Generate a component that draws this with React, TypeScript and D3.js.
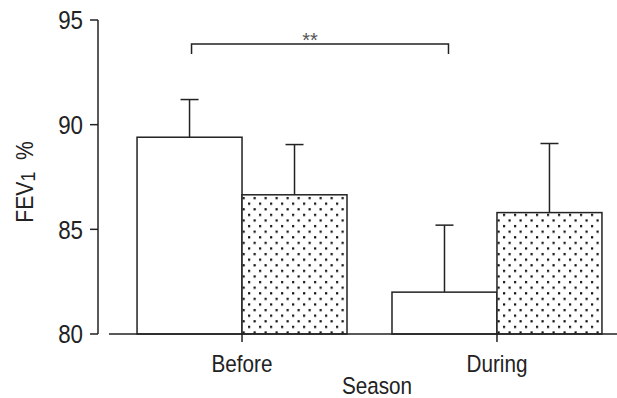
import React from 'react';
import * as d3 from 'd3';

const categories = ['Before', 'During'];
const series = ['open', 'dotted'];
const means = [
    [89.4, 86.65],
    [82.0, 85.8],
];
const upperErr = [
    [91.2, 89.05],
    [85.2, 89.1],
];
const yTicks = [80, 85, 90, 95];
const sigLabel = '**';
const sigLevel = 93.85;

// narrow-ish text, like the condensed Helvetica in the original
const Label = ({ x, y, size, anchor = 'middle', sx = 0.88, rotate = 0, dy = '0', fill = '#222', children }) => (
    <text
        transform={`translate(${x},${y}) rotate(${rotate}) scale(${sx},1)`}
        textAnchor={anchor}
        dy={dy}
        fontFamily='"Liberation Sans", Arial, sans-serif'
        fontSize={size}
        fill={fill}
    >
        {children}
    </text>
);

const App = () => {
    const width = 617;
    const height = 398;
    const ink = '#222';

    const y = d3.scaleLinear().domain([80, 95]).range([334, 20]);
    const x = d3.scaleBand()
        .domain(categories)
        .range([109, 630])
        .paddingInner(45 / 255)
        .paddingOuter(0.11);
    const sub = d3.scaleBand()
        .domain(series)
        .range([0, x.bandwidth()])
        .padding(0);

    const capHalf = 9;
    const whiteCenter = (c) => x(c) + sub('open') + sub.bandwidth() / 2;
    const bl = whiteCenter('Before') + 2;
    const br = whiteCenter('During') + 4;
    const by = y(sigLevel);

    return (
        <svg width={width} height={height} style={{ position: 'absolute', left: 0, top: 0, background: '#fff' }}>
            <defs>
                <pattern id="dots" width={11} height={11.2} patternUnits="userSpaceOnUse">
                    <rect width={11} height={11.2} fill="#fff" />
                    <rect x={1} y={1} width={2.2} height={2.2} fill="#111" />
                    <rect x={6.5} y={6.6} width={2.2} height={2.2} fill="#111" />
                </pattern>
            </defs>

            {/* bars + error bars */}
            {categories.map((c, i) => (
                <g key={c} transform={`translate(${x(c)},0)`}>
                    {series.map((s, j) => {
                        const bx = sub(s);
                        const cx = bx + sub.bandwidth() / 2;
                        return (
                            <g key={s}>
                                <line x1={cx} x2={cx} y1={y(means[i][j])} y2={y(upperErr[i][j])} stroke={ink} strokeWidth={1.5} />
                                <line x1={cx - capHalf} x2={cx + capHalf} y1={y(upperErr[i][j])} y2={y(upperErr[i][j])} stroke={ink} strokeWidth={1.5} />
                                <rect
                                    x={bx}
                                    y={y(means[i][j])}
                                    width={sub.bandwidth()}
                                    height={y(80) - y(means[i][j])}
                                    fill={s === 'dotted' ? 'url(#dots)' : '#fff'}
                                    stroke={ink}
                                    strokeWidth={1.5}
                                />
                            </g>
                        );
                    })}
                </g>
            ))}

            {/* y axis */}
            <line x1={98} x2={98} y1={y(95)} y2={y(80)} stroke={ink} strokeWidth={1.5} />
            {yTicks.map(t => (
                <g key={t}>
                    <line x1={90} x2={98} y1={y(t)} y2={y(t)} stroke={ink} strokeWidth={1.5} />
                    <Label x={83} y={y(t)} dy="0.36em" anchor="end" size={26} sx={0.86}>{t}</Label>
                </g>
            ))}

            {/* x axis */}
            <line x1={109} x2={width} y1={y(80)} y2={y(80)} stroke={ink} strokeWidth={1.5} />
            {categories.map(c => (
                <g key={c}>
                    <line x1={x(c) + x.bandwidth() / 2} x2={x(c) + x.bandwidth() / 2} y1={y(80)} y2={y(80) + 8} stroke={ink} strokeWidth={1.5} />
                    <Label x={x(c) + x.bandwidth() / 2} y={372} size={23.5}>{c}</Label>
                </g>
            ))}
            <Label x={377} y={394} size={23.5}>Season</Label>

            {/* y label */}
            <Label x={33} y={182} rotate={-90} size={24}>
                FEV<tspan fontSize={20} dy={2}>1</tspan><tspan dy={-2}>{'\u00a0 %'}</tspan>
            </Label>

            {/* significance bracket */}
            <path d={`M${bl},${by + 10}V${by}H${br}V${by + 10}`} fill="none" stroke={ink} strokeWidth={1.5} />
            <Label x={310} y={by + 2.5} size={20} sx={1} fill="#555">{sigLabel}</Label>
        </svg>
    );
};

export default App;
